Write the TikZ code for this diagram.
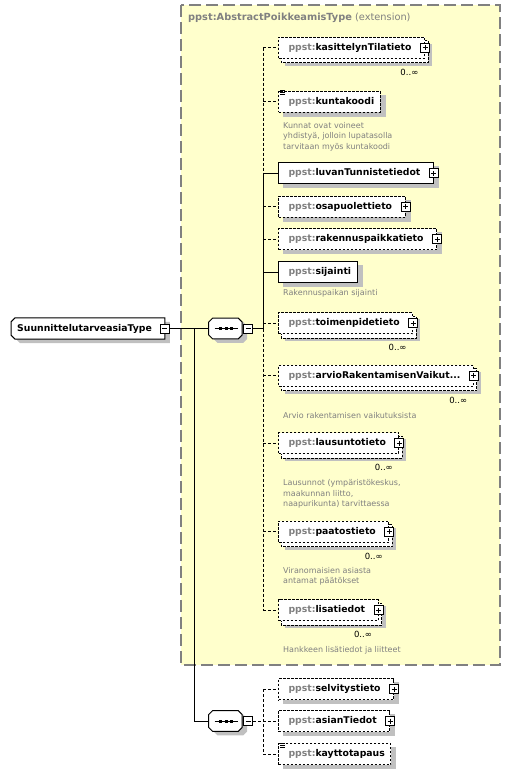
\documentclass[tikz,border=0pt]{standalone}
\usepackage{fontspec}
\setmainfont{DejaVu Sans}

\definecolor{extfill}{RGB}{255,255,204}
\definecolor{extline}{RGB}{128,128,128}
\definecolor{ppstgray}{RGB}{128,128,128}
\definecolor{shadowgray}{RGB}{192,192,192}

\pgfdeclarelayer{bg}
\pgfdeclarelayer{shade}
\pgfsetlayers{bg,shade,main}

\newcommand{\pp}[2][6pt]{\hspace*{10pt}\textcolor{ppstgray}{ppst:}#2\hspace*{#1}}

\begin{document}
\begin{tikzpicture}
[x=1pt,y=-1pt,
 elem/.style={draw,fill=white,line width=1pt,anchor=west,minimum height=21pt,inner sep=0pt,font=\fontsize{9.3pt}{11pt}\selectfont\bfseries},
 opt/.style={dash pattern=on 2.5pt off 1.5pt},
 stack/.style={draw,fill=white,line width=1pt,opt},
 conn/.style={line width=1pt},
 optline/.style={dash pattern=on 3pt off 2pt},
 extbox/.style={fill=extfill,draw=extline,line width=2pt,dash pattern=on 12pt off 5pt},
 plusbox/.style={draw,fill=white,line width=1pt,minimum size=9pt,inner sep=0pt,
   path picture={\draw[line width=1pt] ([xshift=2pt]path picture bounding box.west) -- ([xshift=-2pt]path picture bounding box.east);
                 \draw[line width=1pt] ([yshift=-2pt]path picture bounding box.north) -- ([yshift=2pt]path picture bounding box.south);}},
 minusbox/.style={draw,fill=white,line width=1pt,minimum size=9pt,inner sep=0pt,
   path picture={\draw[line width=1pt] ([xshift=2pt]path picture bounding box.west) -- ([xshift=-2pt]path picture bounding box.east);}},
 seqbox/.style={minimum width=33pt,minimum height=20.5pt,inner sep=0pt},
 rootbox/.style={anchor=west,minimum height=21pt,inner sep=0pt,font=\fontsize{9.3pt}{11pt}\selectfont\bfseries},
 seqline/.style={insert path={([xshift=4pt]#1.north west) -- ([xshift=-4pt]#1.north east) -- ([yshift=-4pt]#1.north east)
   -- ([yshift=4pt]#1.south east) -- ([xshift=-4pt]#1.south east) -- ([xshift=4pt]#1.south west)
   -- ([yshift=4pt]#1.south west) -- ([yshift=-4pt]#1.north west) -- cycle}},
 rootline/.style={insert path={([xshift=4pt]#1.north west) -- (#1.north east) -- (#1.south east) -- ([xshift=4pt]#1.south west)
   -- ([yshift=4pt]#1.south west) -- ([yshift=-4pt]#1.north west) -- cycle}},
 outline/.style={draw,fill=white,line width=1pt},
 shadow/.style={fill=shadowgray,transform canvas={shift={(5pt,-4pt)}}},
 note/.style={anchor=north west,align=left,inner sep=0pt,text=ppstgray,font=\fontsize{8pt}{10.5pt}\selectfont},
 mult/.style={anchor=east,inner sep=0pt,font=\fontsize{8.5pt}{10pt}\selectfont}]

\useasboundingbox (0,0) rectangle (511,774);

% extension frame
\begin{pgfonlayer}{bg}
\draw[extbox] (181,5) rectangle (500,665);
\end{pgfonlayer}
\node (title) at (188,18) [anchor=west,inner sep=0pt,text=ppstgray,font=\fontsize{9.8pt}{11pt}\selectfont] {\textbf{ppst:AbstractPoikkeamisType} (extension)};

\node (root) at (11,328.5) [rootbox] {\hspace*{6pt}SuunnittelutarveasiaType\hspace*{13pt}};
\node (seq1) at (225.4,328.5) [seqbox] {};
\node (seq2) at (225.4,721) [seqbox] {};

\node (root-m) at (root.east) [minusbox] {};
\node (seq1-m) at ([xshift=1pt]seq1.east) [minusbox,anchor=west] {};
\node (seq2-m) at ([xshift=1pt]seq2.east) [minusbox,anchor=west] {};

\node (kasit)  at (278,47.5)  [elem,opt] {\pp[13pt]{kasittelynTilatieto}};
\node (kunta)  at (278,101.7) [elem,opt] {\pp{kuntakoodi}};
\node (luvan)  at (278,173.3) [elem]     {\pp[13pt]{luvanTunnistetiedot}};
\node (osapu)  at (278,206.7) [elem,opt] {\pp[13pt]{osapuolettieto}};
\node (raken)  at (278,239.2) [elem,opt] {\pp[13pt]{rakennuspaikkatieto}};
\node (sijai)  at (278,272.3) [elem]     {\pp{sijainti}};
\node (toimen) at (278,323.3) [elem,opt] {\pp[13pt]{toimenpidetieto}};
\node (arvio)  at (278,375.8) [elem,opt] {\pp[13pt]{arvioRakentamisenVaikut...}};
\node (lausu)  at (278,443)   [elem,opt] {\pp[13pt]{lausuntotieto}};
\node (paatos) at (278,531.7) [elem,opt] {\pp[13pt]{paatostieto}};
\node (lisat)  at (278,610.3) [elem,opt] {\pp[13pt]{lisatiedot}};

\node (selvi)  at (278,689.3) [elem,opt] {\pp[13pt]{selvitystieto}};
\node (asian)  at (278,721)   [elem,opt] {\pp[13pt]{asianTiedot}};
\node (kaytto) at (278,754.3) [elem,opt] {\pp{kayttotapaus}};

\foreach \e in {kasit,luvan,osapu,raken,toimen,arvio,lausu,paatos,lisat,selvi,asian}
	\node (\e-p) at (\e.east) [plusbox] {};

\foreach \e in {kasit,toimen,arvio,lausu,paatos,lisat}
	\node (\e-n) at ([shift={(-6.5pt,-13.5pt)}]\e.south east) [mult] {0..∞};

\node (kunta-d)  at (283,122)   [note] {Kunnat ovat voineet\\yhdistyä, jolloin lupatasolla\\tarvitaan myös kuntakoodi};
\node (sijai-d)  at (283,289.7) [note] {Rakennuspaikan sijainti};
\node (arvio-d)  at (283,412.5) [note] {Arvio rakentamisen vaikutuksista};
\node (lausu-d)  at (283,479.5) [note] {Lausunnot (ympäristökeskus,\\maakunnan liitto,\\naapurikunta) tarvittaessa};
\node (paatos-d) at (283,567)   [note] {Viranomaisien asiasta\\antamat päätökset};
\node (lisat-d)  at (283,645.8) [note] {Hankkeen lisätiedot ja liitteet};

% shadows, outlines and stacked copies
\begin{pgfonlayer}{shade}
\path[shadow] [rootline=root];
\path[outline] [rootline=root];
\foreach \s in {seq1,seq2} {
	\path[shadow] [seqline=\s];
	\path[outline] [seqline=\s];
}
\foreach \e in {kunta,luvan,osapu,raken,sijai,selvi,asian,kaytto}
	\fill[shadowgray] ([shift={(5pt,-4pt)}]\e.north west) rectangle ([shift={(5pt,-4pt)}]\e.south east);
\foreach \e in {kasit,toimen,arvio,lausu,paatos,lisat}
	\fill[shadowgray] ([shift={(7pt,-7pt)}]\e.north west) rectangle ([shift={(7pt,-7pt)}]\e.south east);
\foreach \e in {kasit,toimen,arvio,lausu,paatos,lisat}
	\draw[stack] ([shift={(3pt,-4pt)}]\e.north west) rectangle ([shift={(3pt,-4pt)}]\e.south east);
\end{pgfonlayer}

% simple content marks
\foreach \e in {kunta,kaytto}
	\foreach \d in {0,2,4}
		\draw[line width=0.8pt] ([shift={(2pt,-\d pt)}]\e.north west) -- ++(5,0);

% sequence marks
\foreach \s in {seq1,seq2} {
	\draw[conn] ([xshift=6pt]\s.west) -- ([xshift=-4pt]\s.east);
	\foreach \d in {-4.5,1,6.5}
		\fill ([xshift=\d pt]\s.center) +(-1.5,-1.5) rectangle +(1.5,1.5);
}

% connectors
\coordinate (b0) at (194,328.5);
\coordinate (b1) at (263,328.5);
\coordinate (b2) at (263,721);

\draw[conn] (root-m) -- (seq1);
\draw[conn] (b0) |- (seq2);
\draw[conn] (seq1-m) -- (b1);
\draw[conn,optline] (b1 |- kasit.west) -- (b1 |- luvan.west);
\draw[conn] (b1 |- luvan.west) -- (b1);
\draw[conn,optline] (b1) -- (b1 |- lisat.west);
\draw[conn,optline] (seq2-m) -- (b2);
\draw[conn,optline] (b2 |- selvi.west) -- (b2 |- kaytto.west);

\foreach \e in {kasit,kunta,osapu,raken,toimen,arvio,lausu,paatos,lisat}
	\draw[conn,optline] (b1 |- \e.west) -- (\e);
\foreach \e in {luvan,sijai}
	\draw[conn] (b1 |- \e.west) -- (\e);
\foreach \e in {selvi,asian,kaytto}
	\draw[conn,optline] (b2 |- \e.west) -- (\e);

\end{tikzpicture}
\end{document}
